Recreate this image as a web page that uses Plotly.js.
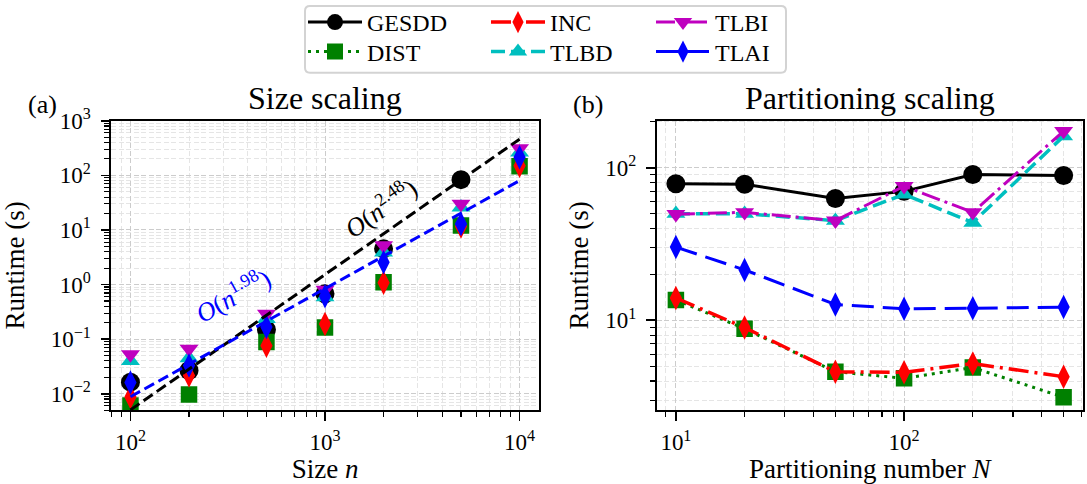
<!DOCTYPE html>
<html>
<head>
<meta charset="utf-8">
<script src="https://cdn.plot.ly/plotly-3.0.1.min.js"></script>
<style>html,body{margin:0;padding:0;background:#fff;}#chart{width:1087px;height:484px;}</style>
</head>
<body>
<div id="chart"></div>
<script>
// ---- Data ----
const sizeN      = [100, 200, 500, 1000, 2000, 5000, 10000];
const sizeGESDD  = [0.0163, 0.0267, 0.148, 0.675, 4.5, 83.4, null];
const sizeDIST   = [0.0061, 0.0097, 0.089, 0.163, 1.10, 12.0, 146];
const sizeINC    = [0.0087, 0.0216, 0.076, 0.19, 1.08, 11.5, 150];
const sizeTLBD   = [0.040, 0.045, 0.235, 0.59, 3.9, 26, 263];
const sizeTLBI   = [0.0524, 0.0666, 0.29, 0.80, 5.2, 29.9, 312];
const sizeTLAI   = [0.016, 0.033, 0.166, 0.61, 2.56, 12.9, 214];

const fitN       = [100, 10000];
const fitSteep   = [0.00505, 460];   // O(n^2.48)
const fitShallow = [0.0088, 80];     // O(n^1.98)

const partN      = [10, 20, 50, 100, 200, 500];
const partGESDD  = [78.5, 77.9, 62.8, 70.0, 90.4, 89];
const partDIST   = [13.6, 8.8, 4.6, 4.17, 4.9, 3.13];
const partINC    = [14.0, 8.96, 4.6, 4.56, 5.2, 4.27];
const partTLBD   = [50, 50, 45, 67, 43.7, 161];
const partTLBI   = [49.6, 51, 45, 75.7, 51, 174];
const partTLAI   = [30.2, 21.4, 12.7, 11.9, 12.0, 12.2];

const seriesNames = ['GESDD', 'DIST', 'INC', 'TLBD', 'TLBI', 'TLAI'];

const sizeXTickVals = [100, 1000, 10000];
const sizeXTickText = ['10<sup>2</sup>', '10<sup>3</sup>', '10<sup>4</sup>'];
const sizeYTickVals = [0.01, 0.1, 1, 10, 100, 1000];
const sizeYTickText = ['10<sup>\u22122</sup>', '10<sup>\u22121</sup>', '10<sup>0</sup>', '10<sup>1</sup>', '10<sup>2</sup>', '10<sup>3</sup>'];
const partXTickVals = [10, 100];
const partXTickText = ['10<sup>1</sup>', '10<sup>2</sup>'];
const partYTickVals = [10, 100];
const partYTickText = ['10<sup>1</sup>', '10<sup>2</sup>'];

// ---- Styling ----
const FONT = 'Liberation Serif';
const TICK_SIZE = 23;
const W = 1087, H = 484;
const px = v => v / W;
const py = v => 1 - v / H;

const styles = {
  GESDD: {color: '#000000', symbol: 'circle', size: 19, dash: 'solid', width: 3},
  DIST:  {color: '#008000', symbol: 'square', size: 16.5, dash: '3px,5px', width: 3},
  INC:   {color: '#ff0000', symbol: 'diamond-tall', size: 17.5, dash: '20px,6px,3px,6px', width: 3.5},
  TLBD:  {color: '#00bfbf', symbol: 'triangle-up', size: 16.5, dash: '14px,6px', width: 3.5},
  TLBI:  {color: '#bf00bf', symbol: 'triangle-down', size: 16.5, dash: '19px,5px,3px,5px', width: 3},
  TLAI:  {color: '#0000ff', symbol: 'diamond-tall', size: 17.5, dash: '22px,9px', width: 3}
};

const sizeData = {GESDD: sizeGESDD, DIST: sizeDIST, INC: sizeINC, TLBD: sizeTLBD, TLBI: sizeTLBI, TLAI: sizeTLAI};
const partData = {GESDD: partGESDD, DIST: partDIST, INC: partINC, TLBD: partTLBD, TLBI: partTLBI, TLAI: partTLAI};
const legendOf = {GESDD: 'legend', INC: 'legend2', TLBI: 'legend3', DIST: 'legend4', TLBD: 'legend5', TLAI: 'legend6'};

const traces = [];
seriesNames.forEach(name => {
  const s = styles[name];
  traces.push({
    type: 'scatter', mode: 'markers', x: sizeN, y: sizeData[name], name: name,
    xaxis: 'x', yaxis: 'y', showlegend: false,
    marker: {symbol: s.symbol, size: s.size, color: s.color, line: {width: 0}}
  });
});
traces.push({type: 'scatter', mode: 'lines', x: fitN, y: fitSteep, xaxis: 'x', yaxis: 'y', showlegend: false,
  name: 'O(n^2.48)', line: {color: '#000000', width: 3, dash: '11px,5px'}});
traces.push({type: 'scatter', mode: 'lines', x: fitN, y: fitShallow, xaxis: 'x', yaxis: 'y', showlegend: false,
  name: 'O(n^1.98)', line: {color: '#0000ff', width: 3, dash: '11px,5px'}});
seriesNames.forEach(name => {
  const s = styles[name];
  traces.push({
    type: 'scatter', mode: 'lines+markers', x: partN, y: partData[name], name: name,
    xaxis: 'x2', yaxis: 'y2', legend: legendOf[name],
    line: {color: s.color, width: s.width, dash: s.dash},
    marker: {symbol: s.symbol, size: s.size, color: s.color, line: {width: 0}}
  });
});

function decadeMinors(lo, hi) {
  const out = [];
  for (let e = lo; e <= hi; e++) for (let m = 2; m <= 9; m++) out.push(m * Math.pow(10, e));
  return out;
}

function logAxis(domain, range, tickvals, ticktext, minorvals, anchor, titleText, standoff, labelGap) {
  return {
    type: 'log', domain: domain, range: range, anchor: anchor, automargin: false,
    tickmode: 'array', tickvals: tickvals, ticktext: ticktext,
    ticks: 'outside', ticklen: 8.5, tickwidth: 1.6, tickcolor: '#000',
    showline: true, linecolor: '#000', linewidth: 2, mirror: true,
    showgrid: true, gridcolor: '#cccccc', gridwidth: 1, griddash: '5px,2.5px',
    zeroline: false, ticklabelstandoff: labelGap,
    tickfont: {family: FONT, size: TICK_SIZE, color: '#000'},
    minor: {tickmode: 'array', tickvals: minorvals, ticks: 'outside', ticklen: 5, tickwidth: 1.1,
            tickcolor: '#000', showgrid: true, gridcolor: '#e2e2e2', gridwidth: 0.9, griddash: '5px,2.5px'},
    title: {text: titleText, font: {family: FONT, size: 27, color: '#000'}, standoff: standoff}
  };
}

const yDom = [py(410), py(120)];

function mkLegend(left, cy) {
  return {
    bgcolor: 'rgba(0,0,0,0)', borderwidth: 0, orientation: 'v',
    font: {family: FONT, size: 24, color: '#000'}, itemwidth: 54,
    xanchor: 'left', yanchor: 'middle', xref: 'paper', yref: 'paper',
    x: px(left), y: py(cy)
  };
}

// Rounded legend frame
const fx0 = 305, fy0 = 5, fx1 = 786, fy1 = 72, rr = 5;
const framePath = [
  'M', px(fx0 + rr), py(fy0),
  'L', px(fx1 - rr), py(fy0),
  'Q', px(fx1), py(fy0), px(fx1), py(fy0 + rr),
  'L', px(fx1), py(fy1 - rr),
  'Q', px(fx1), py(fy1), px(fx1 - rr), py(fy1),
  'L', px(fx0 + rr), py(fy1),
  'Q', px(fx0), py(fy1), px(fx0), py(fy1 - rr),
  'L', px(fx0), py(fy0 + rr),
  'Q', px(fx0), py(fy0), px(fx0 + rr), py(fy0), 'Z'
].join(' ');

const layout = {
  width: W, height: H,
  margin: {l: 0, r: 0, t: 0, b: 0, pad: 0},
  paper_bgcolor: '#ffffff', plot_bgcolor: '#ffffff',
  font: {family: FONT, size: TICK_SIZE, color: '#000'},
  xaxis: logAxis([px(111), px(539)], [1.9, 4.1], sizeXTickVals, sizeXTickText,
                 [80, 90].concat(decadeMinors(2, 3)), 'y', 'Size <i>n</i>', 2, 2),
  yaxis: logAxis(yDom, [Math.log10(0.005), 3], sizeYTickVals, sizeYTickText,
                 decadeMinors(-3, 2).filter(v => v >= 0.005), 'x', 'Runtime (s)', 19, 5),
  xaxis2: logAxis([px(656.5), px(1083)], [0.915, 2.784], partXTickVals, partXTickText,
                  [9].concat(decadeMinors(1, 1), [200, 300, 400, 500, 600]), 'y2', 'Partitioning number <i>N</i>', 2, 2),
  yaxis2: logAxis(yDom, [0.411, 2.308], partYTickVals, partYTickText,
                  [3, 4, 5, 6, 7, 8, 9].concat(decadeMinors(1, 1), [200]), 'x2', 'Runtime (s)', 9, 5),
  legend: mkLegend(303, 22),
  legend2: mkLegend(486, 22),
  legend3: mkLegend(651, 22),
  legend4: mkLegend(303, 52),
  legend5: mkLegend(486, 52),
  legend6: mkLegend(651, 52),
  shapes: [{type: 'path', xref: 'paper', yref: 'paper', path: framePath,
            line: {color: '#d3d3d3', width: 2}, fillcolor: 'rgba(255,255,255,0.8)', layer: 'above'}],
  annotations: [
    {text: 'Size scaling', xref: 'paper', yref: 'paper', x: px(325), y: py(97), showarrow: false,
     xanchor: 'center', yanchor: 'middle', font: {family: FONT, size: 32, color: '#000'}},
    {text: 'Partitioning scaling', xref: 'paper', yref: 'paper', x: px(870), y: py(97), showarrow: false,
     xanchor: 'center', yanchor: 'middle', font: {family: FONT, size: 32, color: '#000'}},
    {text: '(a)', xref: 'paper', yref: 'paper', x: px(42), y: py(104), showarrow: false,
     xanchor: 'center', yanchor: 'middle', font: {family: FONT, size: 26, color: '#000'}},
    {text: '(b)', xref: 'paper', yref: 'paper', x: px(588), y: py(104), showarrow: false,
     xanchor: 'center', yanchor: 'middle', font: {family: FONT, size: 26, color: '#000'}},
    {text: '<i>O</i>(<i>n</i><sup>2.48</sup>)', xref: 'x', yref: 'y', x: 3.283, y: 1.408, showarrow: false,
     textangle: -35, xanchor: 'center', yanchor: 'middle', font: {family: FONT, size: 26, color: '#000'}},
    {text: '<i>O</i>(<i>n</i><sup>1.98</sup>)', xref: 'x', yref: 'y', x: 2.527, y: -0.183, showarrow: false,
     textangle: -29, xanchor: 'center', yanchor: 'middle', font: {family: FONT, size: 26, color: '#0000ff'}}
  ]
};

Plotly.newPlot('chart', traces, layout, {displayModeBar: false, staticPlot: true});
</script>
</body>
</html>
